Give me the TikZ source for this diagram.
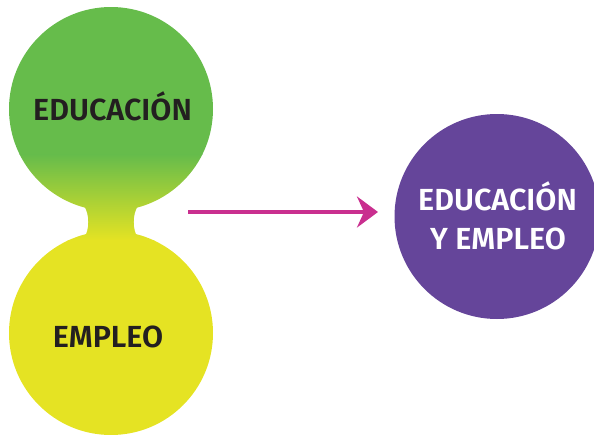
\documentclass[tikz,border=0pt]{standalone}
\usepackage{fontspec}
\setmainfont{Fira Sans}[BoldFont={* SemiBold}]
\usetikzlibrary{arrows.meta}
\definecolor{grn}{HTML}{66BC4B}
\definecolor{yel}{HTML}{E5E323}
\definecolor{pur}{HTML}{65459A}
\definecolor{mag}{HTML}{C92F8F}
\definecolor{txt}{HTML}{231F20}
\newcommand{\gradfill}{%
  \fill[grn] (0,0) rectangle (240,155);
  \shade[top color=grn, bottom color=yel] (0,154.5) rectangle (240,240.5);
  \fill[yel] (0,240) rectangle (240,440);
}
\tikzset{
  lbl/.style={font=\fontsize{30.5}{36}\selectfont\bfseries, anchor=base, inner sep=0pt},
}
\begin{document}
\begin{tikzpicture}[x=1pt,y=-1pt]
\useasboundingbox (0,0) rectangle (594,434);
% combined green-yellow shape
\begin{scope}\clip (111,109) circle[radius=102];\gradfill\end{scope}
\begin{scope}\clip (111,333) circle[radius=102];\gradfill\end{scope}
\begin{scope}\clip (84,200) -- (84,206) .. controls (89.7,214) and (89.7,230) .. (84,238) -- (84,244)
  -- (138,244) -- (138,238) .. controls (132.3,230) and (132.3,214) .. (138,206) -- (138,200) -- cycle;
  \gradfill\end{scope}
\node[circle, minimum size=204pt, inner sep=0pt] (edu) at (111,109) {};
\node[circle, minimum size=204pt, inner sep=0pt] (emp) at (111,333) {};
\node[circle, fill=pur, minimum size=205pt, inner sep=0pt] (both) at (497,216.5) {};
\node[lbl, text=txt] (t1) at (112.5,120.5) {EDUCACIÓN};
\node[lbl, text=txt] (t2) at (108,347.5) {EMPLEO};
\node[lbl, text=white] (t3) at (497.5,210.5) {EDUCACIÓN};
\node[lbl, text=white] (t4) at (498,249.5) {Y EMPLEO};
\coordinate (a1) at (188,212);
\coordinate (a2) at (378,212);
\draw[mag, line width=4.5pt, -{Stealth[length=21pt, width=31pt, inset=7pt]}] (a1) -- (a2);
\end{tikzpicture}
\end{document}
